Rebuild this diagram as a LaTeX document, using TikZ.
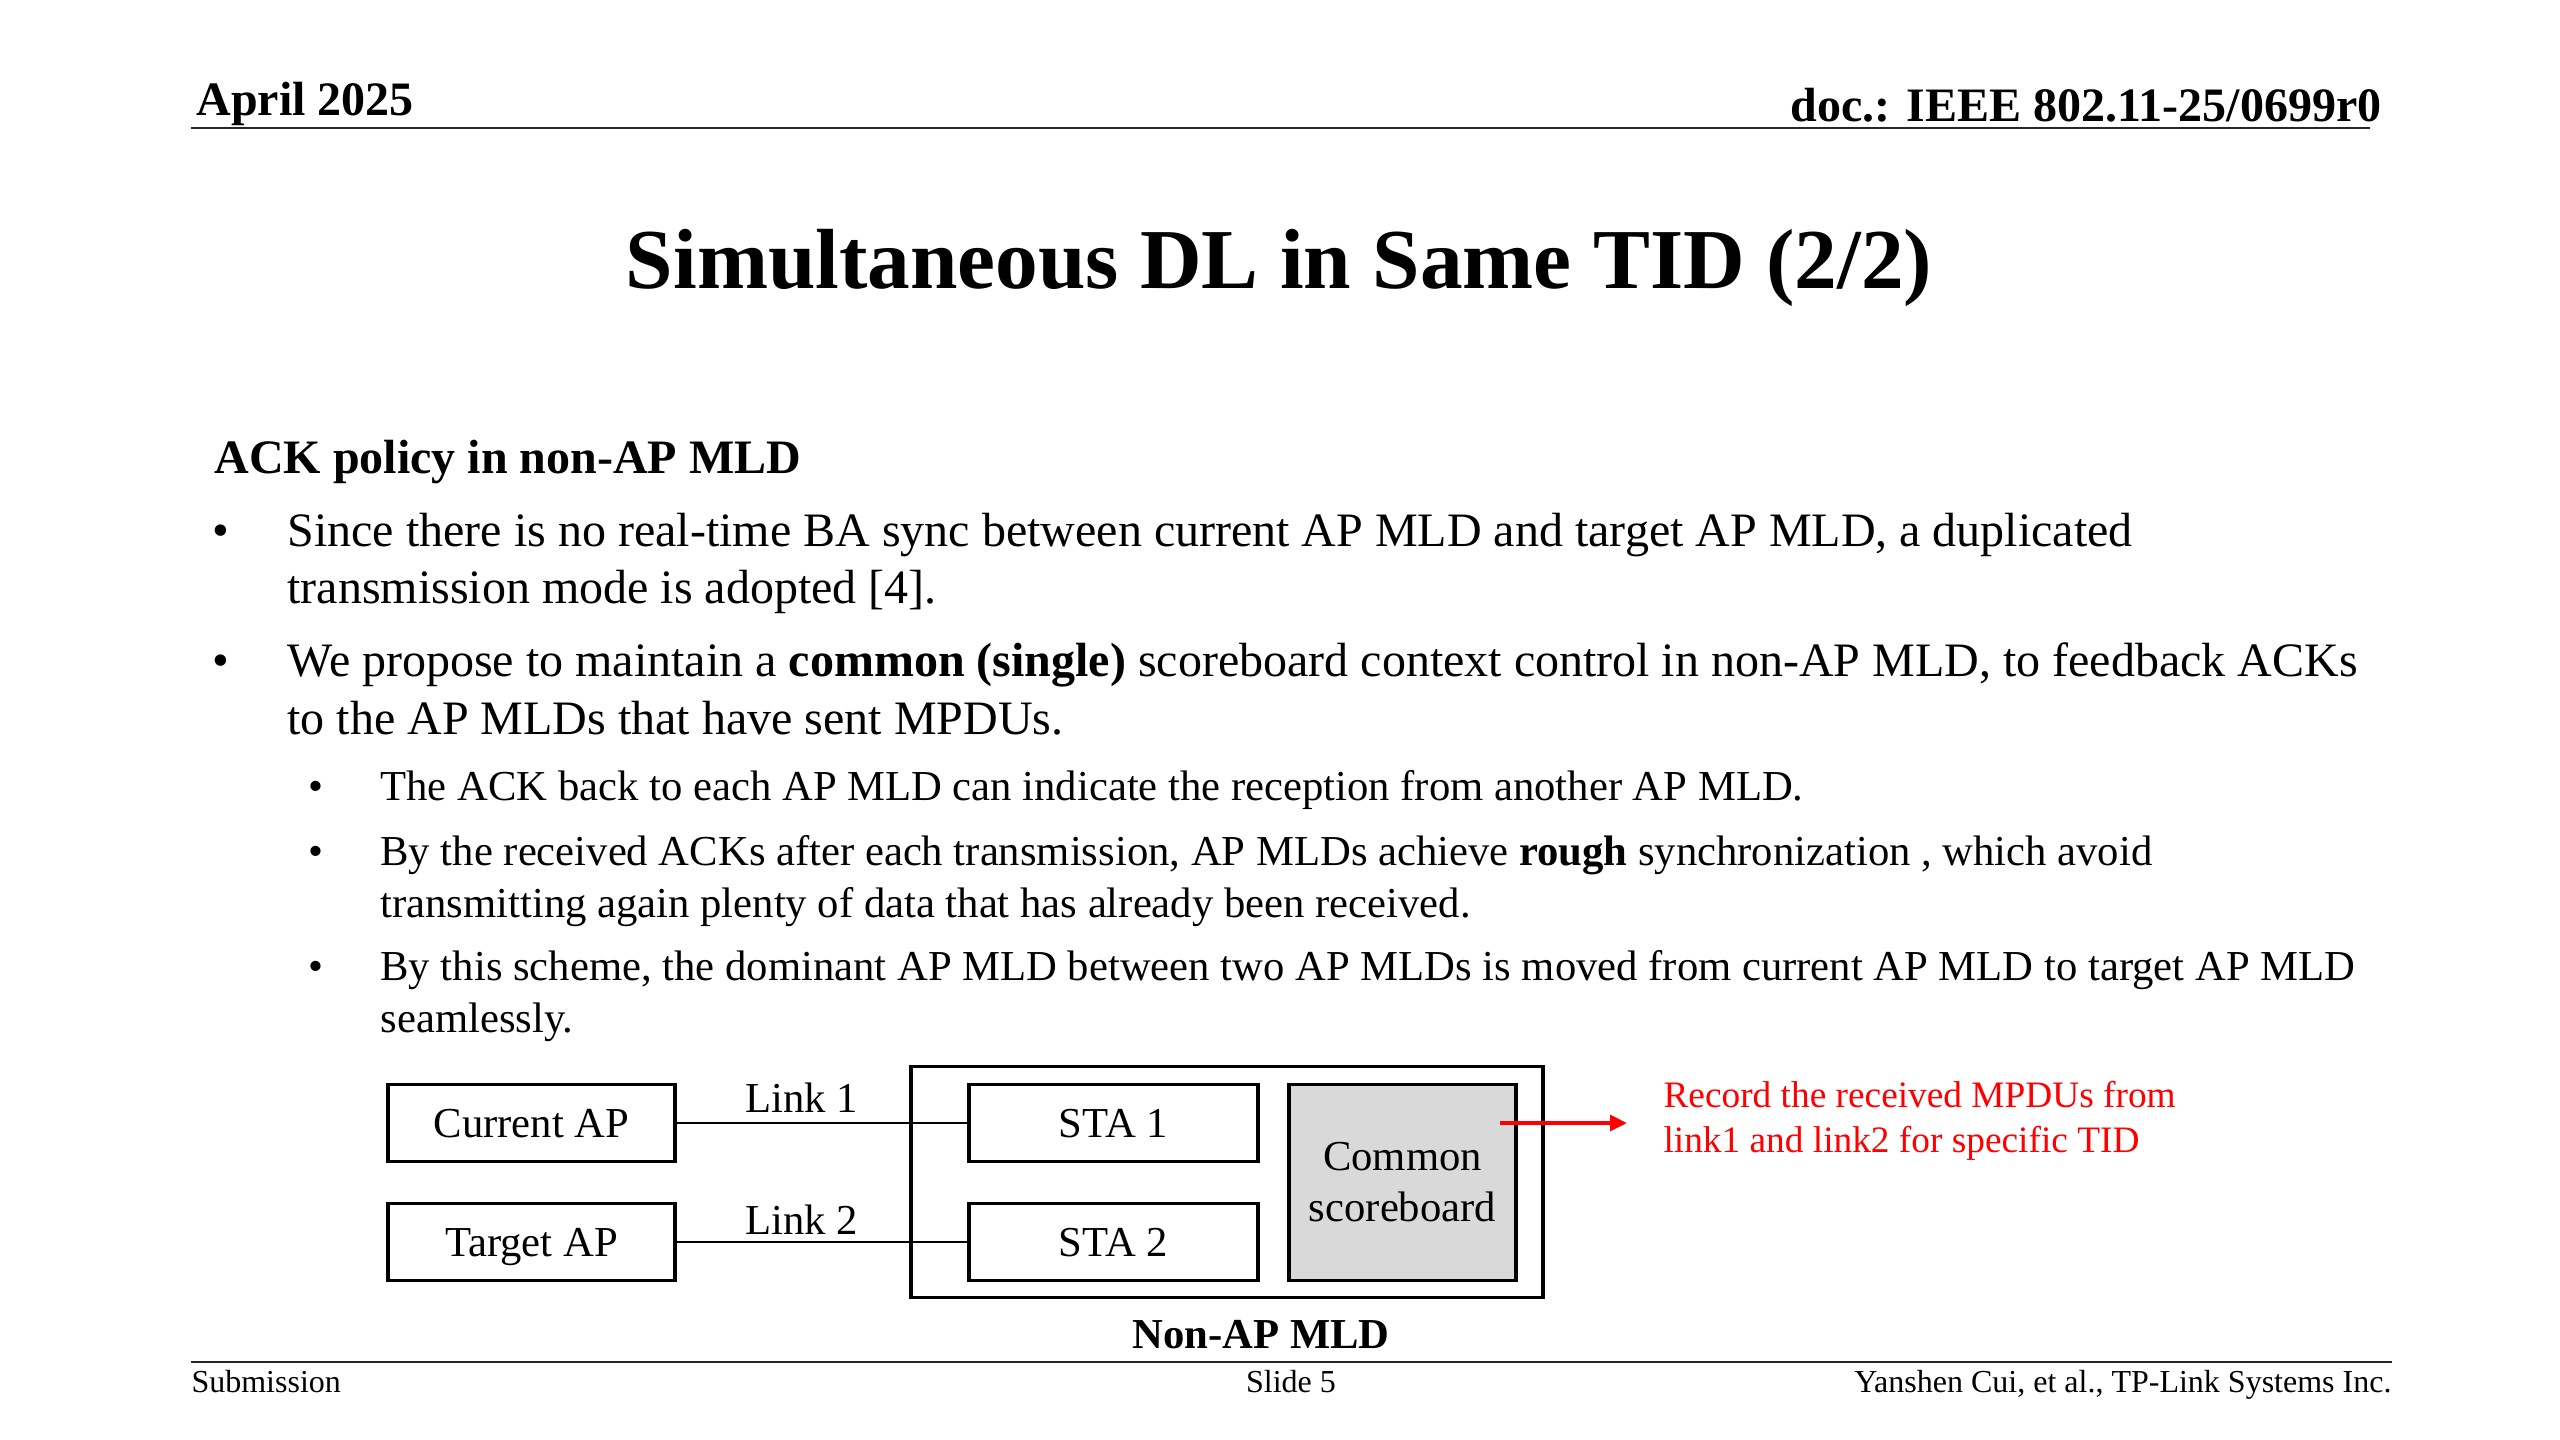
\documentclass[tikz,border=0pt]{standalone}
\usepackage{fontspec}
\setmainfont{Liberation Serif}
\usetikzlibrary{arrows.meta}
\definecolor{sbgray}{RGB}{217,217,217}
\newcommand\fsbody{\fontsize{18}{21.6}\selectfont}
\newcommand\fssub{\fontsize{16}{19.2}\selectfont}
\tikzset{
  hdr/.style={inner sep=0pt, font=\fontsize{18}{21.6}\selectfont\bfseries},
  ttlstyle/.style={inner sep=0pt, anchor=base, font=\fontsize{32}{38.4}\selectfont\bfseries},
  rulestyle/.style={line width=1pt, draw=black!85},
  txt/.style={anchor=base west, inner sep=0pt, font=\fsbody},
  subtxt/.style={anchor=base west, inner sep=0pt, font=\fssub},
  bul/.style={anchor=base, inner sep=0pt, font=\fsbody},
  subbul/.style={anchor=base, inner sep=0pt, font=\fssub},
  box/.style={draw=black, line width=1.25pt, minimum width=107.6pt, minimum height=28.9pt,
    inner sep=0pt, font=\fssub, text height=10.8pt, text depth=0pt},
  sbbox/.style={draw=black, fill=sbgray, line width=1.25pt, minimum width=85.1pt, minimum height=73.5pt,
    inner sep=0pt, align=center, font=\fontsize{16}{19.1}\selectfont},
  outerbox/.style={draw=black, line width=1.25pt, minimum width=237pt, minimum height=86.6pt, inner sep=0pt},
  linkline/.style={draw=black, line width=1pt},
  linklbl/.style={anchor=base, inner sep=0pt, font=\fssub},
  boldlbl/.style={anchor=base, inner sep=0pt, font=\fssub\bfseries},
  redarr/.style={draw=red, line width=1.4pt, -{Triangle[length=6.3pt,width=5.8pt]}},
  redtxt/.style={anchor=base west, inner sep=0pt, text=red, font=\fontsize{14}{16.8}\selectfont},
  foot/.style={inner sep=0pt, font=\fontsize{12}{14.4}\selectfont}
}
\begin{document}
\begin{tikzpicture}[x=0.375pt,y=-0.375pt]
\path[use as bounding box, fill=white] (0,0) rectangle (2560,1440);
% header
\node[hdr, anchor=base west] (date) at (196,116) {April 2025};
\node[hdr, anchor=base east] (doc) at (2382,122) {doc.: IEEE 802.11-25/0699r0};
\coordinate (hl) at (191,128);
\coordinate (hr) at (2370,128);
\draw[rulestyle] (hl) -- (hr);
% title
\node[ttlstyle] (ttl) at (1279,289) {Simultaneous DL in Same TID (2/2)};
% body
\node[txt, font=\fsbody\bfseries] (head) at (214,474) {ACK policy in non-AP MLD};
\node[bul] (b1) at (221,546) {•};
\node[txt] (b1a) at (287,546) {Since there is no real-time BA sync between current AP MLD and target AP MLD, a duplicated};
\node[txt] (b1b) at (287,603) {transmission mode is adopted [4].};
\node[bul] (b2) at (221,676) {•};
\node[txt] (b2a) at (287,676) {We propose to maintain a \textbf{common (single)} scoreboard context control in non-AP MLD, to feedback ACKs};
\node[txt] (b2b) at (287,734) {to the AP MLDs that have sent MPDUs.};
\node[subbul] (s1) at (316,800) {•};
\node[subtxt] (s1a) at (380,800) {The ACK back to each AP MLD can indicate the reception from another AP MLD.};
\node[subbul] (s2) at (316,865) {•};
\node[subtxt] (s2a) at (380,865) {By the received ACKs after each transmission, AP MLDs achieve \textbf{rough} synchronization , which avoid};
\node[subtxt] (s2b) at (380,917) {transmitting again plenty of data that has already been received.};
\node[subbul] (s3) at (316,980) {•};
\node[subtxt] (s3a) at (380,980) {By this scheme, the dominant AP MLD between two AP MLDs is moved from current AP MLD to target AP MLD};
\node[subtxt] (s3b) at (380,1032) {seamlessly.};
% diagram
\node[outerbox] (mld) at (1227,1182) {};
\node[box] (cur) at (531.5,1123) {Current AP};
\node[box] (tgt) at (531.5,1242) {Target AP};
\node[box, minimum width=108.4pt] (sta1) at (1113.5,1123) {STA 1};
\node[box, minimum width=108.4pt] (sta2) at (1113.5,1242) {STA 2};
\node[sbbox] (sb) at (1402.5,1182.5) {Common\\scoreboard};
\draw[linkline] (cur) -- node[linklbl, pos=0.43, yshift=3.8pt] (l1) {Link 1} (sta1);
\draw[linkline] (tgt) -- node[linklbl, pos=0.43, yshift=3pt] (l2) {Link 2} (sta2);
\node[boldlbl] (mldlbl) at (1261,1348) {Non-AP MLD};
\coordinate (ra) at (1500,1123);
\coordinate (rb) at (1627,1123);
\draw[redarr] (ra) -- (rb);
\node[redtxt] (rt1) at (1663,1107) {Record the received MPDUs from};
\node[redtxt] (rt2) at (1663,1152) {link1 and link2 for specific TID};
% footer
\coordinate (fl) at (191,1362);
\coordinate (fr) at (2392,1362);
\draw[rulestyle] (fl) -- (fr);
\node[foot, anchor=base west] (sub) at (191,1392) {Submission};
\node[foot, anchor=base] (sl) at (1291,1392) {Slide 5};
\node[foot, anchor=base east] (auth) at (2392,1392) {Yanshen Cui, et al., TP-Link Systems Inc.};
\end{tikzpicture}
\end{document}
